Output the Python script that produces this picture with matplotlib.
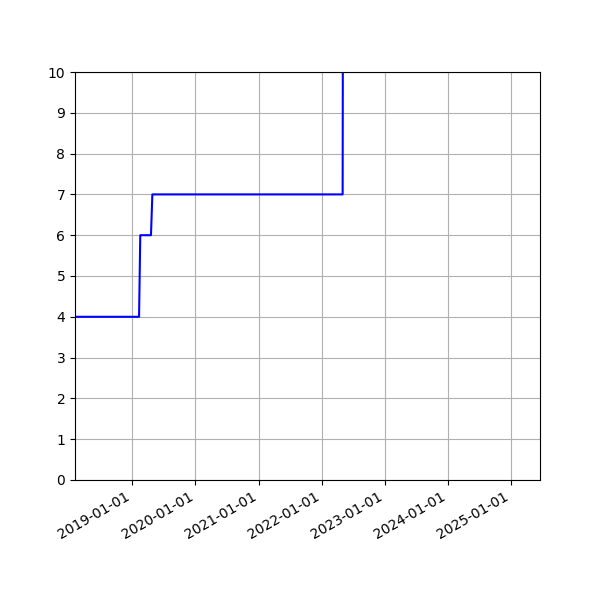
import numpy as np
import pandas as pd
import matplotlib
matplotlib.use("Agg")
import matplotlib.pyplot as plt
import matplotlib.dates as mdates

dates = pd.to_datetime(["2018-02-03", "2019-02-09", "2019-02-16", "2019-04-19",
                        "2019-04-27", "2022-05-03", "2022-05-04"])
values = [4, 4, 6, 6, 7, 7, 10]

fig, ax = plt.subplots(figsize=(6, 6), dpi=100)
ax.plot(dates, values, color="blue")
ax.set_xlim(pd.Timestamp("2018-02-03"), pd.Timestamp("2025-06-19"))
ax.set_ylim(0, 10)
ax.set_yticks(range(0, 11))
ax.xaxis.set_major_locator(mdates.YearLocator())
ax.xaxis.set_major_formatter(mdates.DateFormatter("%Y-%m-%d"))
ax.grid(True)
fig.autofmt_xdate()
fig.savefig("out.png")
